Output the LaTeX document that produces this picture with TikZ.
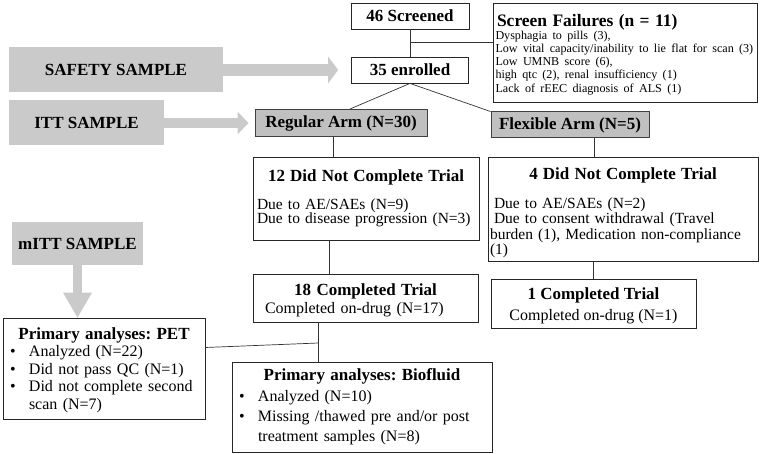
\documentclass[tikz,border=0pt]{standalone}
\usepackage{fontspec}
\setmainfont{Liberation Serif}
\usepackage{xcolor}
\usepackage{tikz}
\usetikzlibrary{arrows.meta}
\setlength{\parindent}{0pt}
\frenchspacing
\definecolor{samplegray}{RGB}{202,202,202}
\definecolor{armgray}{RGB}{192,192,192}
\newcommand{\headfont}{\fontsize{17}{19}\selectfont\bfseries}
\newcommand{\bul}{\makebox[22pt][l]{\hspace{3pt}\textbullet}}
\tikzset{
  box/.style={draw=black!85, line width=0.8pt, inner xsep=4pt, inner ysep=3pt, align=left,
    font=\fontsize{16}{16.5}\selectfont},
  headbox/.style={box, align=center, font=\headfont},
  armbox/.style={headbox, fill=armgray, draw=black!75, line width=1pt},
  samplebox/.style={fill=samplegray, inner sep=0pt, font=\headfont},
  samplearrow/.style n args={3}{draw=samplegray, line width=#1,
    -{Triangle[length=#2, width=#3, line width=0pt]}},
  link/.style={draw=black!80, line width=0.7pt}
}

\begin{document}
\begin{tikzpicture}[x=1pt, y=-1pt]
\useasboundingbox (0,0) rectangle (761,454);
\node (1) at (410,16) [headbox, minimum width=118pt, minimum height=26pt] {46 Screened};
\node (2) at (625,52.5) [box, text width=259pt, inner xsep=2.5pt, minimum height=99pt]
  {{\fontsize{17.5}{20}\selectfont\bfseries\rule{0pt}{16pt}\hspace*{1.5pt}Screen Failures (n = 11)\par}
   {\fontsize{12.1}{13.2}\selectfont
   Dysphagia to pills (3),\\
   Low vital capacity/inability to lie flat for scan (3)\\
   Low UMNB score (6),\\
   high qtc (2), renal insufficiency (1)\\
   Lack of rEEC diagnosis of ALS (1)\par}};
\node (3) at (410,70) [headbox, minimum width=117pt, minimum height=26pt] {35 enrolled};
\node (4) at (116,70) [samplebox, minimum width=214pt, minimum height=45pt] {SAFETY SAMPLE};
\node (5) at (86.5,123) [samplebox, minimum width=155pt, minimum height=45pt] {ITT SAMPLE};
\node (6) at (77.5,243.5) [samplebox, minimum width=131pt, minimum height=43pt] {mITT SAMPLE};
\node (7) at (341,123) [armbox, minimum width=172pt, minimum height=27pt] {Regular Arm (N=30)};
\node (8) at (570,125) [armbox, minimum width=158pt, minimum height=26pt] {Flexible Arm (N=5)};
\node (9) at (366,198.5) [box, text width=218pt, minimum height=83pt, font=\fontsize{15.5}{14.5}\selectfont]
  {{\centering\headfont 12 Did Not Complete Trial\par}\vspace{13pt}
   Due to AE/SAEs (N=9)\\
   Due to disease progression (N=3)\par\vspace{8pt}};
\node (10) at (623,209.5) [box, text width=266pt, inner xsep=2pt, minimum height=101pt, font=\fontsize{15.5}{15.5}\selectfont]
  {{\centering\headfont\rule{0pt}{19pt}4 Did Not Complete Trial\par}\vspace{13pt}
   \hspace*{4pt}Due to AE/SAEs (N=2)\\
   \hspace*{4pt}Due to consent withdrawal (Travel\\
   burden (1), Medication non-compliance\\
   (1)};
\node (11) at (365.5,298) [box, text width=217pt, minimum height=48pt]
  {{\centering\headfont\rule{0pt}{16pt}18 Completed Trial\par}\vspace{2pt}
   \hspace*{8pt}Completed on-drug (N=17)};
\node (12) at (593.5,303.5) [box, align=center, minimum width=205pt, minimum height=49pt]
  {{\headfont\rule{0pt}{16pt}1 Completed Trial}\\[4pt] Completed on-drug (N=1)};
\node (13) at (104,368.5) [box, text width=194pt, minimum height=101pt, font=\fontsize{16}{17.5}\selectfont]
  {{\centering\headfont\rule{0pt}{15pt}Primary analyses: PET\par}
   \bul Analyzed (N=22)\\
   \bul Did not pass QC (N=1)\\
   \bul Did not complete second\\
   \hspace*{22pt}scan (N=7)};
\node (14) at (362,407) [box, text width=252pt, minimum height=90pt, font=\fontsize{16}{20}\selectfont]
  {{\centering\headfont Primary analyses: Biofluid\par}\vspace{1pt}
   \bul Analyzed (N=10)\\
   \bul Missing /thawed pre and/or post\\
   \hspace*{22pt}treatment samples (N=8)};
% sample arrows
\draw[samplearrow={12pt}{10pt}{27pt}, shorten >=13pt] (4) -- (3);
\draw[samplearrow={10pt}{11pt}{23pt}, shorten >=6pt] (5) -- (7);
\draw[samplearrow={9pt}{25pt}{29pt}] (6) -- (6 |- 13.north);
% flow
\coordinate (j1) at (410,42);
\draw[link] (1) -- (3);
\draw[link] (j1) -- (j1 -| 2.west);
\draw[link] (3.south) -- ([xshift=9pt]7.north);
\draw[link] (3.south) -- (8.north west);
\draw[link] ([xshift=-8pt]7.south) -- ([xshift=-8pt]7.south |- 9.north);
\draw[link] ([xshift=24pt]8.south) -- ([xshift=24pt]8.south |- 10.north);
\draw[link] ([xshift=-37pt]9.south) -- ([xshift=-37pt]9.south |- 11.north);
\draw[link] ([xshift=-30pt]10.south) -- ([xshift=-30pt]10.south |- 12.north);
\draw[link] ([xshift=-47pt]11.south) -- ([xshift=-47pt]11.south |- 14.north);
\coordinate (j2) at ([xshift=-47pt]11.south |- 0,343);
\draw[link] (j2) -- ([yshift=21pt]13.east);
\end{tikzpicture}
\end{document}
